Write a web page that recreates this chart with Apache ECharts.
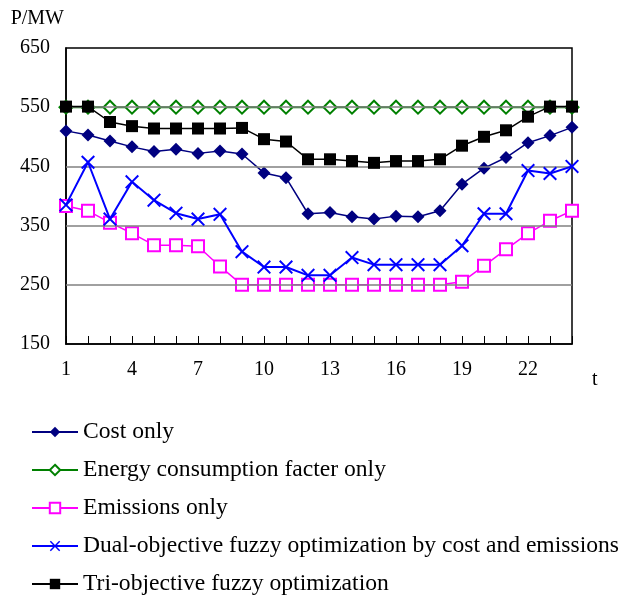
<!DOCTYPE html>
<html>
<head>
<meta charset="utf-8">
<script src="https://cdn.jsdelivr.net/npm/echarts@6/dist/echarts.min.js"></script>
<style>
html,body{margin:0;padding:0;background:#fff;}
#chart{width:621px;height:597px;}
</style>
</head>
<body>
<div id="chart"></div>
<script>
var hours = ['1','2','3','4','5','6','7','8','9','10','11','12','13','14','15','16','17','18','19','20','21','22','23','24'];
var costOnly = [510,503,493,483,475,479,472,476,471,439,431,370,372,365,361,366,365,375,420,447,465,490,502,516];
var energyOnly = [550,550,550,550,550,550,550,550,550,550,550,550,550,550,550,550,550,550,550,550,550,550,550,550];
var emissionsOnly = [383,375,355,337,317,317,315,281,250,250,250,250,250,250,250,250,250,250,255,282,310,337,358,375];
var dualObjective = [385,457,361,424,393,371,361,369,306,280,280,266,266,296,284,284,284,284,316,370,370,443,438,450];
var triObjective = [551,551,525,518,514,514,514,514,515,496,492,462,462,459,456,459,459,462,485,500,511,534,551,551];
var yMin = 150, yMax = 650;
var gridValues = [250,350,450,550];
var seriesNames = ['Cost only','Energy consumption facter only','Emissions only','Dual-objective fuzzy optimization by cost and emissions','Tri-objective fuzzy optimization'];

var FONT = '"Liberation Serif", "Times New Roman", serif';
var crossPath = 'path://M0,1 L1,0 L5,4 L9,0 L10,1 L6,5 L10,9 L9,10 L5,6 L1,10 L0,9 L4,5 Z';

var chart = echarts.init(document.getElementById('chart'), null, {renderer:'canvas'});
chart.setOption({
  animation:false,
  backgroundColor:'#ffffff',
  textStyle:{fontFamily:FONT},
  grid:{left:66, right:49, top:48, bottom:253, show:true, borderColor:'#000', borderWidth:1.5, backgroundColor:'transparent'},
  legend:{
    orient:'vertical', left:31, top:420, padding:0,
    itemWidth:46, itemHeight:13, itemGap:14,
    textStyle:{fontFamily:FONT, fontSize:23.6, color:'#000', lineHeight:23},
    data:seriesNames
  },
  xAxis:{
    type:'category', data:hours, boundaryGap:false,
    name:'t', nameLocation:'end', nameGap:20,
    nameTextStyle:{fontFamily:FONT, fontSize:20, color:'#000', verticalAlign:'top', padding:[26,0,0,0]},
    axisLine:{lineStyle:{color:'#000', width:1.5}},
    axisTick:{show:true, inside:true, length:8, interval:0, lineStyle:{color:'#000', width:1}},
    axisLabel:{interval:2, margin:26, fontFamily:FONT, fontSize:20, color:'#000', verticalAlign:'middle'},
    splitLine:{show:false}
  },
  yAxis:{
    type:'value', min:yMin, max:yMax, interval:50,
    name:'P/MW', nameLocation:'end', nameGap:19,
    nameTextStyle:{fontFamily:FONT, fontSize:20, color:'#000', align:'right', padding:[0,2,0,0]},
    axisLine:{show:true, lineStyle:{color:'#000', width:1.5}},
    axisTick:{show:false},
    axisLabel:{margin:16, fontFamily:FONT, fontSize:20, color:'#000',
      formatter:function(v){ return ((v - yMin) % 100 === 0) ? String(v) : ''; }},
    splitLine:{show:false}
  },
  series:[
    {
      name:seriesNames[0], type:'line', data:costOnly, z:2,
      symbol:'diamond', symbolSize:13,
      lineStyle:{color:'#000080', width:1.5},
      itemStyle:{color:'#000080'},
      markLine:{
        silent:true, symbol:'none', label:{show:false}, animation:false,
        lineStyle:{color:'#808080', width:1.5, type:'solid'},
        data:gridValues.map(function(v){return {yAxis:v};})
      }
    },
    {
      name:seriesNames[1], type:'line', data:energyOnly, z:3,
      symbol:'emptyDiamond', symbolSize:13,
      lineStyle:{color:'#008000', width:2},
      itemStyle:{color:'#008000', borderColor:'#008000', borderWidth:1.5}
    },
    {
      name:seriesNames[2], type:'line', data:emissionsOnly, z:4,
      symbol:'emptyRect', symbolSize:12,
      lineStyle:{color:'#FF00FF', width:1.5},
      itemStyle:{color:'#FF00FF', borderColor:'#FF00FF', borderWidth:2}
    },
    {
      name:seriesNames[3], type:'line', data:dualObjective, z:5,
      symbol:crossPath, symbolSize:14,
      lineStyle:{color:'#0000FF', width:2},
      itemStyle:{color:'#0000FF'}
    },
    {
      name:seriesNames[4], type:'line', data:triObjective, z:6,
      symbol:'rect', symbolSize:12,
      lineStyle:{color:'#000000', width:1.5},
      itemStyle:{color:'#000000'}
    }
  ]
});
</script>
</body>
</html>
